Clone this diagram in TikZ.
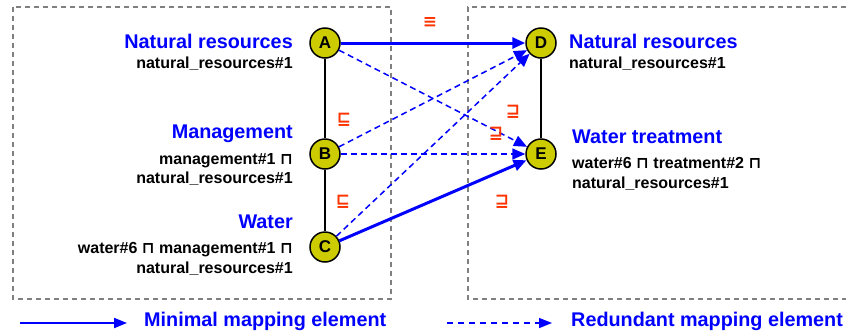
\documentclass[tikz,border=0pt]{standalone}
\usepackage{fontspec}
\setmainfont{Liberation Sans}
\newfontfamily\sym{DejaVu Sans}
\usetikzlibrary{arrows.meta}
\definecolor{nodey}{HTML}{CCCC00}
\definecolor{relred}{HTML}{FF3300}
\definecolor{boxgray}{HTML}{808080}
\begin{document}
\begin{tikzpicture}[x=1pt,y=-1pt,
  concept/.style={circle,draw=black,line width=1.5pt,fill=nodey,minimum size=30pt,inner sep=0pt,font=\fontsize{17}{17}\selectfont\bfseries},
  title/.style={inner sep=0pt,text=blue,font=\fontsize{19.8}{20}\selectfont\bfseries},
  formula/.style={inner sep=0pt,text=black,font=\fontsize{16}{16}\selectfont\bfseries},
  rel/.style={inner sep=0pt,text=relred,font=\fontsize{17}{17}\selectfont\sym\bfseries},
  minimal/.style={draw=blue,line width=3pt,-{Triangle[length=13pt,width=11pt]}},
  redundant/.style={draw=blue,line width=1.5pt,dash pattern=on 6pt off 4pt,-{Triangle[length=13pt,width=11pt]}},
  tree/.style={draw=black,line width=1.5pt},
  frame/.style={draw=boxgray,line width=1.5pt,dash pattern=on 5pt off 4pt}]
\useasboundingbox (0,0) rectangle (846,333);
% context boxes
\draw[frame] (13,7) rectangle (391,299);
\draw[frame] (846,7) -- (468,7) -- (468,299) -- (846,299);
% nodes
\node[concept] (A) at (325,43) {A};
\node[concept] (B) at (325,154) {B};
\node[concept] (C) at (325,247) {C};
\node[concept] (D) at (541,43) {D};
\node[concept] (E) at (541,154) {E};
% tree edges
\draw[tree] (A) -- (B);
\draw[tree] (B) -- (C);
\draw[tree] (D) -- (E);
% mappings
\draw[redundant] (A) -- (E);
\draw[redundant] (B) -- (D);
\draw[redundant] (B) -- (E);
\draw[redundant] (C) -- (D);
\draw[minimal] (A) -- (D);
\draw[minimal] (C) -- (E);
% left labels
\node[title,anchor=base east] (tA) at (293,48) {Natural resources};
\node[formula,anchor=base east] (fA) at (293,68) {natural\_resources\#1};
\node[title,anchor=base east] (tB) at (293,138) {Management};
\node[formula,anchor=base east] (fB1) at (293,164) {management\#1 {\sym ⊓}};
\node[formula,anchor=base east] (fB2) at (293,183) {natural\_resources\#1};
\node[title,anchor=base east] (tC) at (293,228) {Water};
\node[formula,anchor=base east] (fC1) at (293,253) {water\#6 {\sym ⊓} management\#1 {\sym ⊓}};
\node[formula,anchor=base east] (fC2) at (293,273) {natural\_resources\#1};
% right labels
\node[title,anchor=base west] (tD) at (569,48) {Natural resources};
\node[formula,anchor=base west] (fD) at (569,68) {natural\_resources\#1};
\node[title,anchor=base west] (tE) at (572,143) {Water treatment};
\node[formula,anchor=base west] (fE1) at (572,168) {water\#6 {\sym ⊓} treatment\#2 {\sym ⊓}};
\node[formula,anchor=base west] (fE2) at (572,188) {natural\_resources\#1};
% relation symbols
\node[rel] (r1) at (430,22) {≡};
\node[rel] (r2) at (344,120) {⊑};
\node[rel] (r3) at (343,202) {⊑};
\node[rel] (r4) at (513,112) {⊒};
\node[rel] (r5) at (496,134) {⊒};
\node[rel] (r6) at (502,202) {⊒};
% legend
\coordinate (l1s) at (20,323);
\coordinate (l1e) at (127,323);
\coordinate (l2s) at (447,323);
\coordinate (l2e) at (552,323);
\draw[draw=blue,line width=2pt,-{Triangle[length=13pt,width=10pt]}] (l1s) -- (l1e);
\draw[draw=blue,line width=1.5pt,dash pattern=on 6pt off 5pt,-{Triangle[length=13pt,width=10pt]}] (l2s) -- (l2e);
\node[title,anchor=base west] (lg1) at (144,326) {Minimal mapping element};
\node[title,anchor=base west] (lg2) at (571,326) {Redundant mapping element};
\end{tikzpicture}
\end{document}
